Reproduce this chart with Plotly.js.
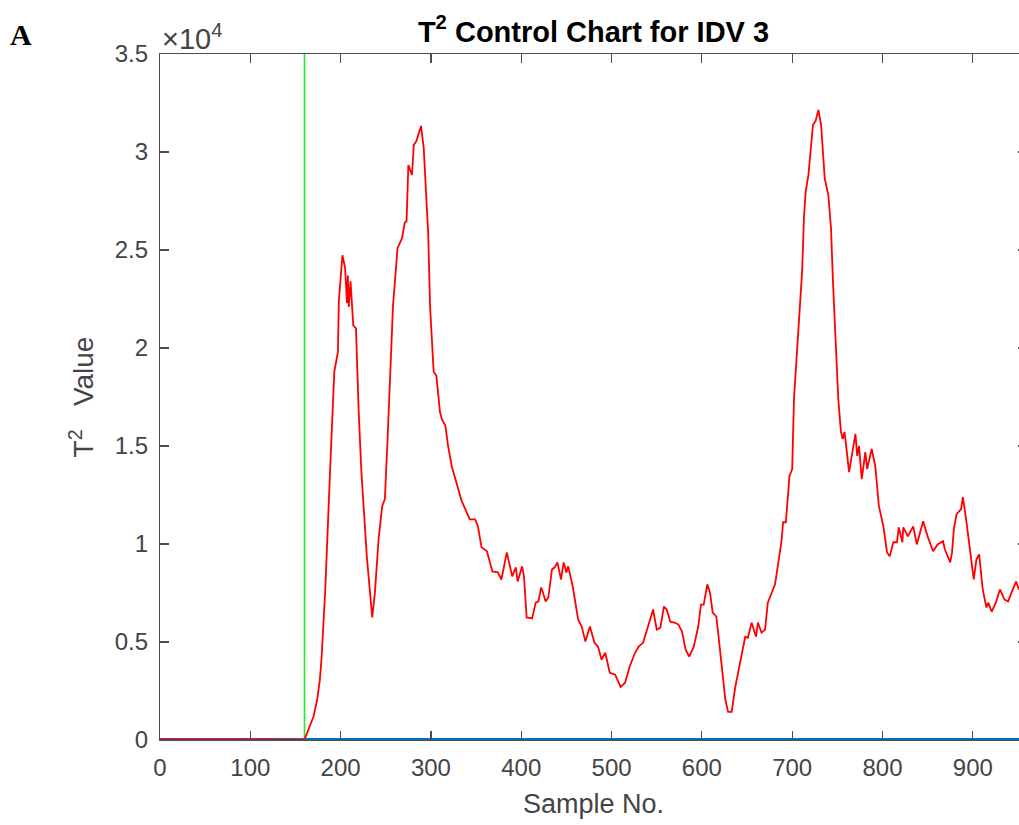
<!DOCTYPE html>
<html>
<head>
<meta charset="utf-8">
<script src="https://cdn.plot.ly/plotly-3.0.1.min.js"></script>
<style>
html, body { margin: 0; padding: 0; overflow: hidden; background: #fff; width: 1019px; height: 825px; }
#chart { width: 1028px; height: 825px; }
</style>
</head>
<body>
<div id="chart"></div>
<script>
// T^2 statistic (red)
const sampleNo = [1,20,40,60,80,100,120,140,160,
164,170,174,177,179,183,189,193,197,198,202,205,207,208,209,211,214,217,220,223,229,235,238,242,246,249,252,256,258,263,268,271,273,275,279,281,284,289,291,292,297,299,303,306,310,312,316,319,323,329,334,338,343,349,352,356,362,368,374,378,384,390,394,396,401,403,406,412,416,419,422,424,427,430,434,437,440,444,447,450,452,457,463,467,471,476,481,485,489,493,498,504,510,515,520,526,530,535,540,546,550,554,558,561,565,570,574,578,582,586,591,596,599,602,606,609,612,616,618,622,626,629,633,637,640,644,648,651,655,660,662,666,670,673,677,681,684,688,690,693,697,700,702,706,711,713,715,718,721,723,726,729,732,734,736,740,743,745,751,754,756,758,763,770,772,774,777,781,783,788,792,796,801,805,808,812,816,818,822,823,828,834,838,845,850,856,861,867,869,875,877,879,882,887,889,893,897,901,904,907,911,915,917,921,926,930,935,939,943,948,951,955,960];
const t2Value = [20,15,25,10,20,15,25,10,20,
510,1200,2050,3070,4250,7680,14490,18790,19800,22370,24730,24060,22300,23700,22100,23400,21150,21000,16740,13670,9370,6250,7530,10240,11930,12290,15360,19610,22170,25090,25600,26400,26470,29340,28830,30360,30570,31330,30360,30210,25800,22170,18790,18590,16740,16380,16030,15000,13980,12950,12200,11780,11260,11260,10900,9830,9630,8600,8550,8190,9570,8350,8810,8090,8860,8350,6250,6200,7010,7070,7780,7530,7070,7270,8700,8810,9060,8190,9060,8550,8860,7830,6140,5790,5020,5790,4970,4760,4100,4450,3430,3330,2710,2920,3740,4450,4760,4970,5790,6660,5630,5730,6810,6660,6040,5990,5890,5530,4610,4250,4760,5790,6910,6910,7940,7530,6500,6300,5480,3740,2050,1430,1430,2710,3430,4450,5270,5220,5990,5270,5990,5480,5630,7010,7530,7940,8860,10090,11110,11110,13470,13820,17410,20500,23910,26620,28000,28830,30360,31390,31590,32150,31390,29850,28670,27800,26110,23550,17410,15720,15360,15720,13670,15620,14490,15000,13310,14690,13820,14850,13980,11930,10900,9570,9370,10090,10090,10850,10090,10850,10390,10900,9980,11160,10390,9630,9980,10140,9730,9060,9570,10750,11520,11780,12390,11110,9570,8190,9220,9470,7680,6760,7010,6550,7070,7680,7170,7070,7530,8090,7680,7900,8000];

// control limit (blue) and fault onset (green)
const limitX = [0, 960];
const limitY = [30, 30];
const faultX = [160, 160];
const faultY = [0, 35000];

const yTickVals = [0, 5000, 10000, 15000, 20000, 25000, 30000, 35000];
const yTickText = ['0', '0.5', '1', '1.5', '2', '2.5', '3', '3.5'];
const xTickVals = [0, 100, 200, 300, 400, 500, 600, 700, 800, 900];

const traces = [
  {x: limitX, y: limitY, type: 'scatter', mode: 'lines', line: {color: '#0072BD', width: 3}, hoverinfo: 'skip'},
  {x: faultX, y: faultY, type: 'scatter', mode: 'lines', line: {color: '#22ee22', width: 1.6}, hoverinfo: 'skip'},
  {x: sampleNo, y: t2Value, type: 'scatter', mode: 'lines', line: {color: '#ff0000', width: 1.8}}
];

const FONT = 'Liberation Sans, Arial, sans-serif';
const axisCommon = {
  showline: true, linecolor: '#4d4d4d', linewidth: 1.2, mirror: 'ticks',
  ticks: 'inside', ticklen: 9, tickcolor: '#4d4d4d', tickwidth: 1.2,
  showgrid: false, zeroline: false,
  tickfont: {family: FONT, size: 24, color: '#444444'}
};

const layout = {
  width: 1028, height: 825,
  margin: {l: 160, r: 1, t: 54, b: 85},
  paper_bgcolor: '#ffffff', plot_bgcolor: '#ffffff',
  showlegend: false,
  title: {
    text: 'T<sup>2</sup> Control Chart for IDV 3',
    font: {family: FONT, size: 29, color: '#000', weight: 'bold'},
    x: 0.5, xref: 'paper', y: 0.962, yref: 'container', yanchor: 'middle'
  },
  xaxis: Object.assign({}, axisCommon, {
    range: [0, 960], tickvals: xTickVals, ticklabelstandoff: 6,
    title: {text: 'Sample No.', font: {family: FONT, size: 27, color: '#444444'}, standoff: 14}
  }),
  yaxis: Object.assign({}, axisCommon, {
    range: [0, 35000], tickvals: yTickVals, ticktext: yTickText, ticklabelstandoff: 6,
    title: {text: 'T<sup>2</sup>\u00a0\u00a0\u00a0Value', font: {family: FONT, size: 28, color: '#444444'}, standoff: 12}
  }),
  annotations: [
    {text: '\u00d710<sup>4</sup>', xref: 'paper', yref: 'paper', x: 0, y: 1, xanchor: 'left', yanchor: 'bottom',
     xshift: 0, yshift: -3, showarrow: false,
     font: {family: FONT, size: 29, color: '#444444'}},
    {text: '<b>A</b>', xref: 'paper', yref: 'paper', x: 0, y: 1, xanchor: 'left', yanchor: 'middle',
     xshift: -152, yshift: 20, showarrow: false,
     font: {family: 'Liberation Serif, Times New Roman, serif', size: 30, color: '#000'}}
  ]
};

Plotly.newPlot('chart', traces, layout, {displayModeBar: false, staticPlot: true});
</script>
</body>
</html>
